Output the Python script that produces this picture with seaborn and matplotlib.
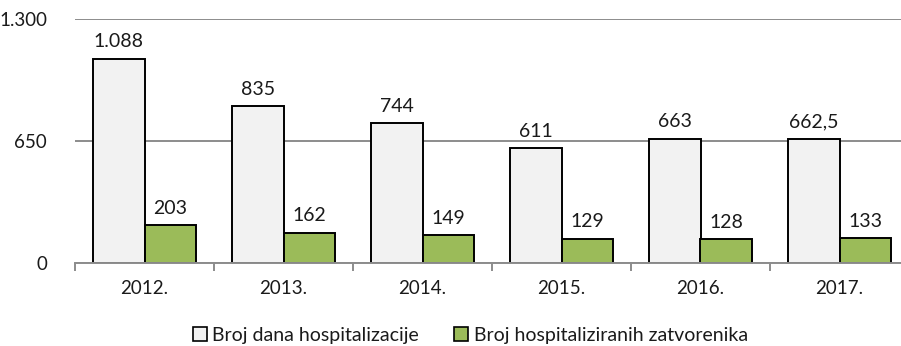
import matplotlib
matplotlib.use("Agg")
import matplotlib.pyplot as plt
import seaborn as sns
import pandas as pd
from matplotlib.patches import Patch

years = ["2012.", "2013.", "2014.", "2015.", "2016.", "2017."]
series_names = ["Broj dana hospitalizacije", "Broj hospitaliziranih zatvorenika"]
days = [1088, 835, 744, 611, 663, 662.5]
prisoners = [203, 162, 149, 129, 128, 133]
y_ticks = [0, 650, 1300]
colors = ["#F2F2F2", "#9BBB59"]


def fmt(v):
    # Croatian number format: '.' for thousands, ',' for decimals
    if float(v).is_integer():
        return f"{int(v):,}".replace(",", ".")
    return f"{v:,.1f}".replace(",", "X").replace(".", ",").replace("X", ".")


df = pd.DataFrame({
    "Godina": years * 2,
    "Serija": [series_names[0]] * len(years) + [series_names[1]] * len(years),
    "Vrijednost": days + prisoners,
})

sns.set_theme(style="white")
plt.rcParams["font.family"] = ["Lato", "DejaVu Sans"]

W, H = 901, 346
fig = plt.figure(figsize=(W / 100, H / 100), dpi=100)
left, right, top, bottom = 75, 909, 19, 263
ax = fig.add_axes([left / W, 1 - bottom / H, (right - left) / W, (bottom - top) / H])

sns.barplot(
    data=df, x="Godina", y="Vrijednost", hue="Serija",
    palette=colors, width=0.74, gap=0, edgecolor="black", linewidth=1.4,
    saturation=1, legend=False, ax=ax, zorder=3,
)

for container, vals in zip(ax.containers, [days, prisoners]):
    ax.bar_label(container, labels=[fmt(v) for v in vals], padding=6,
                 fontsize=14, color="#1a1a1a")

ax.set_ylim(0, 1300)
ax.set_xlim(-0.5, len(years) - 0.5)
ax.set_yticks(y_ticks)
ax.set_yticklabels([fmt(v) for v in y_ticks])
ax.yaxis.grid(True, color="#8c8c8c", linewidth=1.4, zorder=0)
ax.set_axisbelow(True)
ax.set_xlabel("")
ax.set_ylabel("")

for s in ["top", "right", "left"]:
    ax.spines[s].set_visible(False)
ax.spines["bottom"].set_color("#8c8c8c")
ax.spines["bottom"].set_linewidth(1.4)
ax.spines["bottom"].set_zorder(4)

ax.tick_params(axis="y", length=0, pad=20, labelsize=13.5, labelcolor="#1a1a1a")
ax.tick_params(axis="x", which="major", length=0, pad=12, labelsize=13.5,
               labelcolor="#1a1a1a")
ax.set_xticks([i - 0.5 for i in range(len(years) + 1)], minor=True)
ax.tick_params(axis="x", which="minor", length=6, width=1.4, color="#8c8c8c",
               bottom=True)

handles = [Patch(facecolor=c, edgecolor="black", linewidth=1.2) for c in colors]
fig.legend(handles, series_names, loc="center", bbox_to_anchor=(0.522, 1 - 335 / H),
           ncol=2, frameon=False, fontsize=14, handlelength=0.7, handleheight=0.7,
           handletextpad=0.3, columnspacing=1.8, labelcolor="#1a1a1a")

fig.savefig("out.png", dpi=100)
